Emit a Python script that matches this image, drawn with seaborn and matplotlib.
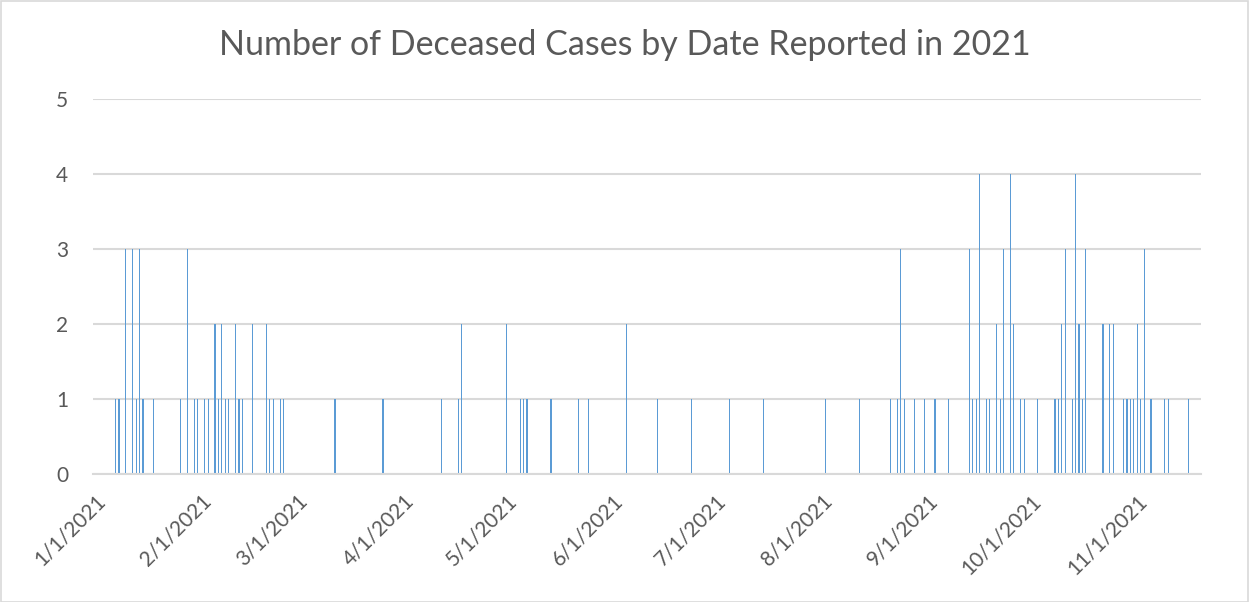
import matplotlib
matplotlib.use("Agg")
import matplotlib.pyplot as plt
import matplotlib.dates as mdates
import seaborn as sns
import pandas as pd
import numpy as np
from matplotlib.patches import Rectangle

# ---- data ----
dates = [
    "2021-01-07", "2021-01-08", "2021-01-10", "2021-01-12", "2021-01-13", "2021-01-14",
    "2021-01-15", "2021-01-18", "2021-01-26", "2021-01-28", "2021-01-30", "2021-01-31",
    "2021-02-02", "2021-02-03", "2021-02-05", "2021-02-06", "2021-02-07", "2021-02-08",
    "2021-02-09", "2021-02-11", "2021-02-12", "2021-02-13", "2021-02-16", "2021-02-20",
    "2021-02-21", "2021-02-22", "2021-02-24", "2021-02-25",
    "2021-03-12", "2021-03-26",
    "2021-04-12", "2021-04-17", "2021-04-18",
    "2021-05-01", "2021-05-05", "2021-05-06", "2021-05-07", "2021-05-14", "2021-05-22",
    "2021-05-25",
    "2021-06-05", "2021-06-14", "2021-06-24",
    "2021-07-05", "2021-07-15",
    "2021-08-02", "2021-08-12", "2021-08-21", "2021-08-23", "2021-08-24", "2021-08-25",
    "2021-08-28", "2021-08-31",
    "2021-09-03", "2021-09-07", "2021-09-13", "2021-09-14", "2021-09-15", "2021-09-16",
    "2021-09-18", "2021-09-19", "2021-09-21", "2021-09-22", "2021-09-23", "2021-09-25",
    "2021-09-26", "2021-09-28", "2021-09-29",
    "2021-10-03", "2021-10-08", "2021-10-09", "2021-10-10", "2021-10-11", "2021-10-13",
    "2021-10-14", "2021-10-15", "2021-10-16", "2021-10-17", "2021-10-22", "2021-10-24",
    "2021-10-25", "2021-10-28", "2021-10-29", "2021-10-30", "2021-10-31",
    "2021-11-01", "2021-11-02", "2021-11-03", "2021-11-05", "2021-11-09", "2021-11-10",
    "2021-11-16",
]
deceased = [
    1, 1, 3, 3, 1, 3,
    1, 1, 1, 3, 1, 1,
    1, 1, 2, 1, 2, 1,
    1, 2, 1, 1, 2, 2,
    1, 1, 1, 1,
    1, 1,
    1, 1, 2,
    2, 1, 1, 1, 1, 1,
    1,
    2, 1, 1,
    1, 1,
    1, 1, 1, 1, 3, 1,
    1, 1,
    1, 1, 3, 1, 1, 4,
    1, 1, 2, 1, 3, 4,
    2, 1, 1,
    1, 1, 1, 2, 3, 1,
    4, 2, 1, 3, 2, 2,
    2, 1, 1, 1, 1,
    2, 1, 3, 1, 1, 1,
    1,
]
axis_start = "2021-01-01"
axis_end = "2021-11-19"
tick_dates = ["2021-%02d-01" % m for m in range(1, 12)]
tick_labels = ["%d/1/2021" % m for m in range(1, 12)]
y_ticks = [0, 1, 2, 3, 4, 5]
title = "Number of Deceased Cases by Date Reported in 2021"

# ---- plotting ----
sns.set_theme(style="white")
plt.rcParams["font.family"] = ["Lato", "DejaVu Sans"]

text_color = "#595959"
grid_color = "#D9D9D9"
bar_color = "#5B9BD5"

df = pd.DataFrame({"date": mdates.date2num(pd.to_datetime(dates)), "deceased": deceased})

fig = plt.figure(figsize=(12.49, 6.02), dpi=100)
ax = fig.add_axes([93.3 / 1249, 1 - 474 / 602, (1200.7 - 93.3) / 1249, (474 - 99) / 602])

sns.barplot(data=df, x="date", y="deceased", native_scale=True, width=0.32,
            color=bar_color, saturation=1, errorbar=None, ax=ax,
            linewidth=0, edgecolor="none")

x0 = mdates.date2num(pd.Timestamp(axis_start)) - 0.5
x1 = mdates.date2num(pd.Timestamp(axis_end)) + 0.5
ax.set_xlim(x0, x1)
ax.set_ylim(0, 5)

ax.set_yticks(y_ticks)
ax.set_yticklabels([str(v) for v in y_ticks])
ax.set_xticks(mdates.date2num(pd.to_datetime(tick_dates)))
ax.set_xticklabels(tick_labels, rotation=45, ha="right", rotation_mode="anchor")

ax.tick_params(axis="both", length=0, colors=text_color, labelsize=15)
ax.tick_params(axis="y", pad=18)
ax.tick_params(axis="x", pad=12)

ax.yaxis.grid(True, color=grid_color, linewidth=1.5)
ax.xaxis.grid(False)
ax.set_axisbelow(True)
for side in ["top", "right", "left"]:
    ax.spines[side].set_visible(False)
ax.spines["bottom"].set_color(grid_color)
ax.spines["bottom"].set_linewidth(1.5)
ax.set_xlabel("")
ax.set_ylabel("")

fig.text(0.5, 1 - 45 / 602, title, ha="center", va="center", fontsize=24.5, color=text_color)

fig.patches.append(Rectangle((0.5 / 1249, 0.5 / 602), 1 - 1.5 / 1249, 1 - 1.5 / 602,
                             transform=fig.transFigure, fill=False,
                             edgecolor=grid_color, linewidth=1.2))

fig.savefig("out.png", dpi=100)
